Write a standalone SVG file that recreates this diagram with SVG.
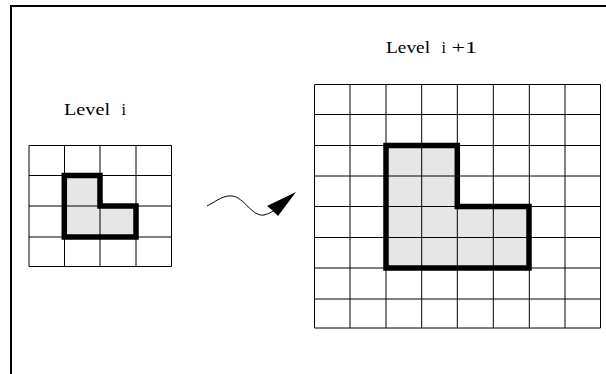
<svg xmlns="http://www.w3.org/2000/svg" width="606" height="374" viewBox="0 0 606 374">
<style>
.grid{fill:none;stroke:#000;stroke-width:1}
.shape{fill:#e6e6e6;stroke:none}
.outline{fill:none;stroke:#000;stroke-width:5.5;stroke-linejoin:miter;stroke-linecap:square}
.lbl{font-family:"Liberation Serif","Times New Roman",serif;font-size:16px;fill:#000}
</style>
<rect width="606" height="374" fill="#fff"/>
<g id="frame"><path d="M11,380 V6 H610" fill="none" stroke="#000" stroke-width="2"/></g>
<g id="level-i">
<text class="lbl" y="115"><tspan x="64" textLength="46" lengthAdjust="spacingAndGlyphs">Level</tspan><tspan x="121.5">i</tspan></text>
<path class="shape" d="M64.3,175.5 H100 V206 H136 V237 H64.3 Z"/>
<path class="grid" d="M29,145.5 H171.5 M29,175.5 H171.5 M29,206 H171.5 M29,237 H171.5 M29,266.5 H171.5 M29,145.5 V266.5 M64.5,145.5 V266.5 M100,145.5 V266.5 M136,145.5 V266.5 M171.5,145.5 V266.5"/>
<path class="outline" d="M64.3,175.5 H100 V206 H136 V237 H64.3 Z"/>
</g>
<g id="level-i1">
<text class="lbl" y="53"><tspan x="386" textLength="44" lengthAdjust="spacingAndGlyphs">Level</tspan><tspan x="441.5">i</tspan><tspan x="451.5" textLength="25.5" lengthAdjust="spacingAndGlyphs">+1</tspan></text>
<path class="shape" d="M386,145.5 H457.3 V206.5 H529 V268 H386 Z"/>
<g class="grid">
<path d="M314.5,84.5 H600.5 M314.5,114.5 H600.5 M314.5,145.5 H600.5 M314.5,176 H600.5 M314.5,206.5 H600.5 M314.5,237.5 H600.5 M314.5,268 H600.5 M314.5,299 H600.5 M314.5,328 H600.5"/>
<path d="M314.5,84.5 V328 M350,84.5 V328 M386,84.5 V328 M421.7,84.5 V328 M457.3,84.5 V328 M493.3,84.5 V328 M529.3,84.5 V328 M565,84.5 V328 M600.5,84.5 V328"/>
</g>
<path class="outline" d="M386,145.5 H457.3 V206.5 H529 V268 H386 Z"/>
</g>
<g id="connectors">
<path d="M207,206 C218,200 224,195 232,196 C244,197 252,217 264,215 C268,214 270,213 273,211" fill="none" stroke="#000" stroke-width="1"/>
<path d="M296,192 L267,206 L272,210 L278,216 Z" fill="#000"/>
</g>
</svg>
